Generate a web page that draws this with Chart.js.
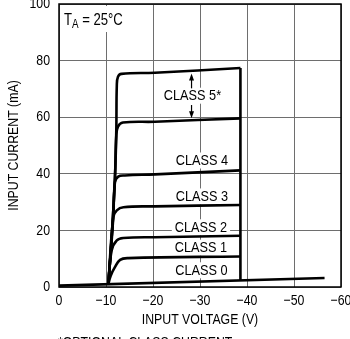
<!DOCTYPE html>
<html>
<head>
<meta charset="utf-8">
<script src="https://cdn.jsdelivr.net/npm/chart.js@4.4.0/dist/chart.umd.min.js"></script>
<style>
  html, body { margin: 0; padding: 0; background: #fff; }
  #wrap { width: 350px; height: 339px; }
</style>
</head>
<body>
<div id="wrap"><canvas id="chart"></canvas></div>
<script>
const FONT = '"Liberation Sans", Arial, sans-serif';
const SQUEEZE = 0.82; // helvetica-narrow look

// tick labels
const xTickLabels = ['0', '−10', '−20', '−30', '−40', '−50', '−60'];
const yTickLabels = ['0', '20', '40', '60', '80', '100'];

// input voltage (V) / input current (mA) for each curve
const class0V = [0, -56.5];
const class0I = [0.5, 3.2];

const class1V = [-10.5, -11.0, -11.9, -13.0, -14.7, -38.6];
const class1I = [1.0, 4.0, 7.0, 9.6, 10.2, 10.8];

const class2V = [-10.5, -11.2, -12.3, -13.7, -20.4, -38.6];
const class2I = [1.0, 12.9, 16.5, 17.3, 17.6, 18.1];

const class3V = [-10.5, -11.55, -12.3, -13.7, -20.4, -38.6];
const class3I = [1.0, 24.7, 27.1, 28.2, 28.5, 29.0];

const class4V = [-10.5, -11.55, -11.9, -12.6, -14.0, -20.4, -38.6];
const class4I = [1.0, 24.7, 37.0, 39.0, 39.4, 39.8, 41.2];

const class5LoV = [-10.5, -11.21, -11.91, -12.19, -12.55, -13.6, -20.4, -38.6];
const class5LoI = [1.0, 17.6, 38.8, 53.5, 56.7, 58.1, 58.4, 59.6];

const class5HiV = [-10.5, -11.21, -11.91, -12.19, -12.3, -12.55, -13.3, -20.4, -38.6];
const class5HiI = [1.0, 17.6, 38.8, 55.3, 71.2, 74.3, 75.3, 75.7, 77.4];

// turn-off edge
const dropV = [-38.6, -38.6];
const dropI = [77.4, 2.3];

// curve labels
const classLabels = ['CLASS 0', 'CLASS 1', 'CLASS 2', 'CLASS 3', 'CLASS 4', 'CLASS 5*'];
const labelV = [-30.3, -30.2, -30.2, -30.4, -30.4, -28.4];
const labelI = [5.9, 13.9, 21.1, 32.0, 44.7, 67.6];

function pts(vs, is) {
  return vs.map((v, i) => ({ x: v, y: is[i] }));
}

function curve(vs, is, tension) {
  return {
    data: pts(vs, is),
    borderColor: '#000',
    borderWidth: 2.6,
    tension: tension,
    pointRadius: 0,
    fill: false
  };
}

// narrow text: liberation sans squeezed horizontally
function narrow(ctx, text, x, y, size, align, baseline, rotate) {
  ctx.save();
  ctx.translate(x, y);
  if (rotate) ctx.rotate(-Math.PI / 2);
  ctx.scale(SQUEEZE, 1);
  ctx.font = size + 'px ' + FONT;
  ctx.textAlign = align || 'left';
  ctx.textBaseline = baseline || 'alphabetic';
  ctx.fillStyle = '#000';
  ctx.fillText(text, 0, 0);
  ctx.restore();
}

function narrowWidth(ctx, text, size) {
  ctx.save();
  ctx.font = size + 'px ' + FONT;
  const w = ctx.measureText(text).width * SQUEEZE;
  ctx.restore();
  return w;
}

const overlay = {
  id: 'overlay',
  beforeDatasetsDraw(chart) {
    const { ctx, scales: { x, y } } = chart;
    const a = chart.chartArea;
    ctx.save();
    classLabels.forEach((t, i) => {
      const px = x.getPixelForValue(labelV[i]);
      const py = y.getPixelForValue(labelI[i]);
      const w = narrowWidth(ctx, t, 15.5);
      ctx.fillStyle = '#fff';
      ctx.fillRect(px - w / 2 - 3, py - 8, w + 6, 16);
      narrow(ctx, t, px, py, 15.5, 'center', 'middle');
    });

    // T_A = 25°C
    ctx.fillStyle = '#fff';
    ctx.fillRect(a.left + 2, a.top + 2, 70, 26);
    let tx = a.left + 5;
    const ty = a.top + 21;
    narrow(ctx, 'T', tx, ty, 16);
    tx += narrowWidth(ctx, 'T', 16);
    narrow(ctx, 'A', tx, ty + 3, 12);
    tx += narrowWidth(ctx, 'A', 12);
    narrow(ctx, ' = 25°C', tx, ty, 16);
    ctx.restore();
  },
  afterDatasetsDraw(chart) {
    const { ctx, scales: { x, y } } = chart;
    const a = chart.chartArea;
    ctx.save();
    ctx.strokeStyle = '#000';
    ctx.lineWidth = 1.5;
    ctx.strokeRect(a.left, a.top, a.right - a.left, a.bottom - a.top);

    // arrows around the class 5 label
    const ax = x.getPixelForValue(-28.2);
    function arrow(fromI, toI) {
      const y0 = y.getPixelForValue(fromI);
      const y1 = y.getPixelForValue(toI);
      const dir = y1 < y0 ? -1 : 1;
      ctx.lineWidth = 1.2;
      ctx.beginPath();
      ctx.moveTo(ax, y0);
      ctx.lineTo(ax, y1 - dir * 5);
      ctx.stroke();
      ctx.beginPath();
      ctx.moveTo(ax, y1);
      ctx.lineTo(ax - 2.5, y1 - dir * 7);
      ctx.lineTo(ax + 2.5, y1 - dir * 7);
      ctx.closePath();
      ctx.fillStyle = '#000';
      ctx.fill();
    }
    arrow(70.2, 75.4);
    arrow(64.3, 59.6);
    ctx.restore();
  },
  afterDraw(chart) {
    const { ctx, scales: { x, y } } = chart;
    const a = chart.chartArea;
    // tick labels
    x.ticks.forEach(t => {
      narrow(ctx, xTickLabels[Math.round(-t.value / 10)], x.getPixelForValue(t.value), a.bottom + 6, 15, 'center', 'top');
    });
    y.ticks.forEach(t => {
      narrow(ctx, yTickLabels[Math.round(t.value / 20)], a.left - 9, y.getPixelForValue(t.value), 15, 'right', 'middle');
    });
    // axis titles
    narrow(ctx, 'INPUT VOLTAGE (V)', (a.left + a.right) / 2, 320, 15, 'center', 'middle');
    narrow(ctx, 'INPUT CURRENT (mA)', 14, (a.top + a.bottom) / 2, 15, 'center', 'middle', true);
    // footnote
    narrow(ctx, '*OPTIONAL CLASS CURRENT', 58, 335, 15, 'left', 'top');
  }
};

new Chart(document.getElementById('chart'), {
  type: 'line',
  data: {
    datasets: [
      curve(class0V, class0I, 0),
      curve(class1V, class1I, 0.4),
      curve(class2V, class2I, 0.4),
      curve(class3V, class3I, 0.4),
      curve(class4V, class4I, 0.4),
      curve(class5LoV, class5LoI, 0.4),
      curve(class5HiV, class5HiI, 0.4),
      curve(dropV, dropI, 0)
    ]
  },
  options: {
    responsive: true,
    maintainAspectRatio: false,
    animation: false,
    layout: { padding: { left: 0, top: 4, right: 9, bottom: 0 } },
    plugins: {
      legend: { display: false },
      tooltip: { enabled: false }
    },
    scales: {
      x: {
        type: 'linear',
        min: -60,
        max: 0,
        reverse: true,
        afterFit: s => { s.height = 52; s.paddingLeft = 0; s.paddingRight = 0; },
        grid: { color: '#6e6e6e', lineWidth: 1, drawTicks: false },
        border: { display: false },
        ticks: { stepSize: 10, display: false },
        title: { display: false }
      },
      y: {
        min: 0,
        max: 100,
        afterFit: s => { s.width = 59; s.paddingTop = 0; s.paddingBottom = 0; },
        grid: { color: '#6e6e6e', lineWidth: 1, drawTicks: false },
        border: { display: false },
        ticks: { stepSize: 20, display: false },
        title: { display: false }
      }
    }
  },
  plugins: [overlay]
});
</script>
</body>
</html>
